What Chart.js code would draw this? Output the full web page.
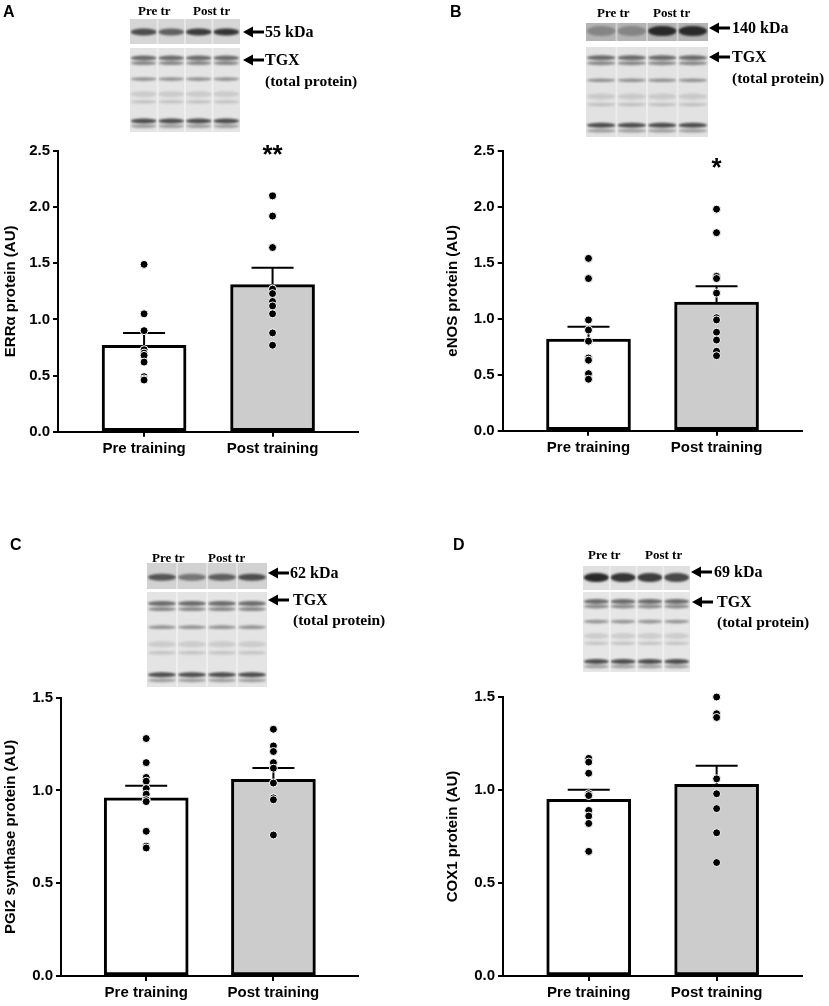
<!DOCTYPE html>
<html>
<head>
<meta charset="utf-8">
<script src="https://cdn.jsdelivr.net/npm/chart.js@4.4.1/dist/chart.umd.min.js"></script>
<style>
  body { margin: 0; background: #fff; }
  #page { position: relative; width: 829px; height: 1006px; overflow: hidden; background: #fff; }
  .panel { position: absolute; }
  .tag { position: absolute; font: bold 16px "Liberation Sans", Arial, sans-serif; }
  .bt { position: absolute; font-family: "Liberation Serif", "Times New Roman", serif; font-weight: bold;
        white-space: nowrap; line-height: 1; transform: translateY(-50%); }
  #blots { position: absolute; left: 0; top: 0; }
</style>
</head>
<body>
<div id="page">
  <canvas id="blots" width="829" height="1006"></canvas>

  <div class="tag" style="left:3px;top:3px">A</div>
  <div class="tag" style="left:450px;top:3px">B</div>
  <div class="tag" style="left:10px;top:536px">C</div>
  <div class="tag" style="left:453px;top:536px">D</div>

  <!-- blot labels -->
  <div class="bt" style="left:138px;top:10px;font-size:13px">Pre tr</div>
  <div class="bt" style="left:193px;top:10px;font-size:13px">Post tr</div>
  <div class="bt" style="left:265px;top:32px;font-size:16px">55 kDa</div>
  <div class="bt" style="left:265px;top:60px;font-size:16px">TGX</div>
  <div class="bt" style="left:265px;top:81px;font-size:15.5px">(total protein)</div>

  <div class="bt" style="left:597px;top:12px;font-size:13px">Pre tr</div>
  <div class="bt" style="left:653px;top:12px;font-size:13px">Post tr</div>
  <div class="bt" style="left:732px;top:28px;font-size:16px">140 kDa</div>
  <div class="bt" style="left:732px;top:57px;font-size:16px">TGX</div>
  <div class="bt" style="left:732px;top:78px;font-size:15.5px">(total protein)</div>

  <div class="bt" style="left:152px;top:557px;font-size:13px">Pre tr</div>
  <div class="bt" style="left:208px;top:557px;font-size:13px">Post tr</div>
  <div class="bt" style="left:290px;top:573px;font-size:16px">62 kDa</div>
  <div class="bt" style="left:293px;top:600px;font-size:16px">TGX</div>
  <div class="bt" style="left:293px;top:620px;font-size:15.5px">(total protein)</div>

  <div class="bt" style="left:588px;top:554px;font-size:13px">Pre tr</div>
  <div class="bt" style="left:645px;top:554px;font-size:13px">Post tr</div>
  <div class="bt" style="left:714px;top:572px;font-size:16px">69 kDa</div>
  <div class="bt" style="left:717px;top:602px;font-size:16px">TGX</div>
  <div class="bt" style="left:717px;top:622px;font-size:15.5px">(total protein)</div>

  <div class="panel" style="left:0;top:135px"><canvas id="chartA" width="400" height="345"></canvas></div>
  <div class="panel" style="left:410px;top:135px"><canvas id="chartB" width="419" height="345"></canvas></div>
  <div class="panel" style="left:0;top:680px"><canvas id="chartC" width="400" height="326"></canvas></div>
  <div class="panel" style="left:410px;top:680px"><canvas id="chartD" width="419" height="326"></canvas></div>
</div>

<script>
// categories
var groups = ['Pre training', 'Post training'];
var groupX = [0, 1];

// A: ERRα
var errPre = [1.49, 1.05, 0.90, 0.73, 0.70, 0.68, 0.62, 0.49, 0.47, 0.46];
var errPost = [2.10, 1.92, 1.64, 1.27, 1.23, 1.16, 1.12, 1.05, 0.88, 0.77];
var errMean = [0.77, 1.31];
var errSem = [0.11, 0.15];
var errStars = ['', '**'];

// B: eNOS
var enosPre = [1.54, 1.36, 0.99, 0.90, 0.80, 0.65, 0.63, 0.51, 0.46];
var enosPost = [1.98, 1.77, 1.38, 1.36, 1.23, 1.01, 0.99, 0.88, 0.81, 0.71, 0.67];
var enosMean = [0.82, 1.15];
var enosSem = [0.11, 0.14];
var enosStars = ['', '*'];

// C: PGI2 synthase
var pgiPre = [1.28, 1.15, 1.07, 1.05, 1.01, 0.98, 0.95, 0.94, 0.78, 0.70, 0.69];
var pgiPost = [1.33, 1.24, 1.21, 1.15, 1.12, 1.04, 0.96, 0.95, 0.76];
var pgiMean = [0.96, 1.06];
var pgiSem = [0.066, 0.061];

// D: COX1
var coxPre = [1.17, 1.15, 1.09, 0.98, 0.97, 0.89, 0.86, 0.82, 0.67];
var coxPost = [1.50, 1.41, 1.39, 1.06, 0.98, 0.90, 0.77, 0.61];
var coxMean = [0.95, 1.03];
var coxSem = [0.052, 0.10];

// tick labels
var ticksAB = [0, 0.5, 1.0, 1.5, 2.0, 2.5];
var ticksCD = [0, 0.5, 1.0, 1.5];

var sans = '"Liberation Sans", Arial, sans-serif';

// error bars (SEM) and stars, drawn between bars and dots
function makeSemPlugin(p) {
  return {
    id: 'semBars',
    afterDatasetDraw: function(chart, args) {
      if (args.index !== 0) return;
      var xs = chart.scales.x, ys = chart.scales.y, ctx = chart.ctx;
      ctx.save();
      ctx.strokeStyle = '#000';
      ctx.lineWidth = 2;
      p.mean.forEach(function(m, i) {
        var x = xs.getPixelForValue(groupX[i]);
        var y0 = ys.getPixelForValue(m);
        var y1 = ys.getPixelForValue(m + p.sem[i]);
        ctx.beginPath();
        ctx.moveTo(x, y0);
        ctx.lineTo(x, y1);
        ctx.moveTo(x - 21, y1);
        ctx.lineTo(x + 21, y1);
        ctx.stroke();
      });
      ctx.restore();
    },
    afterDraw: function(chart) {
      if (!p.stars) return;
      var xs = chart.scales.x, ys = chart.scales.y, ctx = chart.ctx;
      ctx.save();
      ctx.fillStyle = '#000';
      ctx.font = 'bold 26px ' + sans;
      ctx.textAlign = 'center';
      ctx.textBaseline = 'middle';
      p.stars.forEach(function(s, i) {
        if (s) ctx.fillText(s, xs.getPixelForValue(groupX[i]), ys.getPixelForValue(p.starY));
      });
      ctx.restore();
    }
  };
}

function makeChart(id, p) {
  var dots = p.pre.map(function(v) { return {x: groupX[0], y: v}; })
    .concat(p.post.map(function(v) { return {x: groupX[1], y: v}; }));
  var yMax = p.ticks[p.ticks.length - 1];

  return new Chart(document.getElementById(id), {
    type: 'bar',
    data: {
      datasets: [{
        type: 'bar',
        data: p.mean.map(function(m, i) { return {x: groupX[i], y: m}; }),
        backgroundColor: ['#ffffff', '#cccccc'],
        borderColor: '#000',
        borderWidth: 3,
        borderSkipped: false,
        barThickness: 84,
        order: 2
      }, {
        type: 'scatter',
        data: dots,
        pointRadius: 4,
        backgroundColor: '#000',
        borderColor: '#fff',
        borderWidth: 1,
        clip: false,
        order: 1
      }]
    },
    options: {
      responsive: false,
      animation: false,
      layout: { padding: p.pad },
      plugins: { legend: { display: false }, tooltip: { enabled: false } },
      scales: {
        x: {
          type: 'linear',
          offset: false,
          min: -0.67,
          max: 1.665,
          afterBuildTicks: function(s) { s.ticks = groupX.map(function(v) { return {value: v}; }); },
          afterFit: function(s) { s.height = p.xHeight; },
          grid: { offset: false, drawOnChartArea: false, color: '#000', lineWidth: 2, tickLength: 5 },
          border: { color: '#000', width: 2 },
          ticks: {
            color: '#000', padding: 3, maxRotation: 0, autoSkip: false,
            font: { family: sans, size: 15, weight: 'bold' },
            callback: function(v) { return groups[v]; }
          }
        },
        y: {
          min: 0,
          max: yMax,
          afterBuildTicks: function(s) { s.ticks = p.ticks.map(function(v) { return {value: v}; }); },
          afterFit: function(s) { s.width = p.yWidth; },
          grid: { drawOnChartArea: false, color: '#000', lineWidth: 2, tickLength: 5 },
          border: { color: '#000', width: 2 },
          ticks: {
            color: '#000', padding: 3,
            font: { family: sans, size: 15, weight: 'bold' },
            callback: function(v) { return v.toFixed(1); }
          },
          title: {
            display: true, text: p.title, color: '#000',
            padding: { top: 2, bottom: 2 },
            font: { family: sans, size: 15, weight: 'bold' }
          }
        }
      }
    },
    plugins: [makeSemPlugin(p)]
  });
}

makeChart('chartA', {
  pre: errPre, post: errPost, mean: errMean, sem: errSem, stars: errStars, starY: 2.455,
  ticks: ticksAB, title: 'ERRα protein (AU)',
  pad: { left: 0, top: 16, right: 42, bottom: 0 }, yWidth: 58, xHeight: 48.3
});
makeChart('chartB', {
  pre: enosPre, post: enosPost, mean: enosMean, sem: enosSem, stars: enosStars, starY: 2.34,
  ticks: ticksAB, title: 'eNOS protein (AU)',
  pad: { left: 32, top: 16, right: 27.3, bottom: 0 }, yWidth: 60.7, xHeight: 49.3
});
makeChart('chartC', {
  pre: pgiPre, post: pgiPost, mean: pgiMean, sem: pgiSem,
  ticks: ticksCD, title: 'PGI2 synthase protein (AU)',
  pad: { left: 0, top: 17.7, right: 42, bottom: 0 }, yWidth: 61, xHeight: 30
});
makeChart('chartD', {
  pre: coxPre, post: coxPost, mean: coxMean, sem: coxSem,
  ticks: ticksCD, title: 'COX1 protein (AU)',
  pad: { left: 32, top: 17, right: 27.3, bottom: 0 }, yWidth: 61, xHeight: 30
});

// --- western blot pictures (decoration only) ---
var bctx = document.getElementById('blots').getContext('2d');

function drawBlot(x, y, w, h, bg, bands) {
  var ctx = bctx, lw = w / 4;
  ctx.save();
  ctx.fillStyle = bg;
  ctx.fillRect(x, y, w, h);
  ctx.beginPath();
  ctx.rect(x, y, w, h);
  ctx.clip();
  ctx.filter = 'blur(1.2px)';
  bands.forEach(function(b) {
    for (var l = 0; l < 4; l++) {
      var a = Array.isArray(b[1]) ? b[1][l] : b[1];
      ctx.fillStyle = 'rgba(25,25,25,' + a + ')';
      ctx.beginPath();
      ctx.ellipse(x + lw * (l + 0.5), y + h * b[0], lw * 0.47, b[2], 0, 0, Math.PI * 2);
      ctx.fill();
    }
  });
  ctx.filter = 'blur(0.6px)';
  ctx.fillStyle = 'rgba(255,255,255,0.4)';
  for (var l = 1; l < 4; l++) ctx.fillRect(x + lw * l - 1, y, 2, h);
  ctx.restore();
}

function drawArrow(x, y) {
  var ctx = bctx;
  ctx.save();
  ctx.fillStyle = '#000';
  ctx.strokeStyle = '#000';
  ctx.lineWidth = 3;
  ctx.beginPath();
  ctx.moveTo(x + 8, y);
  ctx.lineTo(x + 21, y);
  ctx.stroke();
  ctx.beginPath();
  ctx.moveTo(x, y);
  ctx.lineTo(x + 10, y - 5.5);
  ctx.lineTo(x + 10, y + 5.5);
  ctx.closePath();
  ctx.fill();
  ctx.restore();
}

var totalBands = [[0.12, 0.6, 2.5], [0.18, 0.45, 2], [0.37, 0.4, 1.8], [0.55, 0.12, 3],
                  [0.64, 0.16, 1.8], [0.87, 0.75, 2.5], [0.93, 0.35, 1.8]];

drawBlot(130, 19, 110, 25, '#d6d6d6', [[0.52, [0.72, 0.62, 0.82, 0.85], 3.5]]);
drawBlot(130, 48, 110, 84, '#e4e4e4', totalBands);
drawArrow(243, 32); drawArrow(243, 60);

drawBlot(586, 23, 122, 18, '#b4b4b4', [[0.45, [0.3, 0.3, 0.9, 0.9], 5]]);
drawBlot(586, 47, 122, 90, '#e2e2e2', totalBands);
drawArrow(709, 28); drawArrow(709, 57);

drawBlot(147, 563, 120, 26, '#d2d2d2', [[0.55, [0.68, 0.5, 0.62, 0.72], 3.5]]);
drawBlot(147, 592, 120, 95, '#e4e4e4', totalBands);
drawArrow(268, 573); drawArrow(268, 600);

drawBlot(583, 566, 107, 24, '#e0e0e0', [[0.48, [0.92, 0.86, 0.82, 0.76], 4.5]]);
drawBlot(583, 592, 107, 80, '#e6e6e6', totalBands);
drawArrow(691, 572); drawArrow(692, 602);
</script>
</body>
</html>
